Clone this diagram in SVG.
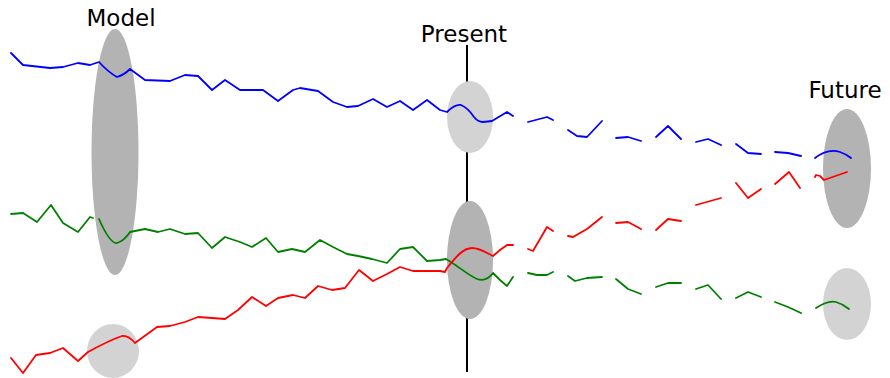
<svg xmlns="http://www.w3.org/2000/svg" width="890" height="378" viewBox="0 0 890 378">
<style>
.lbl{font-family:"DejaVu Sans","Liberation Sans",sans-serif;font-size:23px;fill:#000;text-anchor:middle}
.dark{fill:#b3b3b3}
.light{fill:#d3d3d3}
.tr{fill:none;stroke-width:1.8;stroke-linejoin:round;stroke-linecap:round}
.b{stroke:#0000ff}
.g{stroke:#008000}
.r{stroke:#ff0000}
</style>
<rect width="890" height="378" fill="#ffffff"/>
<line id="present-axis" x1="467" y1="45" x2="467" y2="372" stroke="#000" stroke-width="2"/>
<g id="model">
<text class="lbl" x="121" y="26">Model</text>
<ellipse class="dark" cx="115" cy="152" rx="23.5" ry="123"/>
<ellipse class="light" cx="113" cy="351" rx="26" ry="27"/>
</g>
<g id="present">
<text class="lbl" x="464" y="42">Present</text>
<ellipse class="light" cx="470" cy="117" rx="23" ry="36"/>
<ellipse class="dark" cx="470" cy="260" rx="23" ry="59"/>
</g>
<g id="future">
<text class="lbl" x="845" y="98">Future</text>
<ellipse class="dark" cx="847" cy="168.5" rx="24" ry="59.5"/>
<ellipse class="light" cx="847" cy="304" rx="24" ry="36"/>
</g>
<g id="trajectories">
<path class="tr b" d="M11,53 L23,65 L50,68 L63,67 L78,63 L90,65 L99,62 Q108,72 117,77 Q124,75 130,69 L145,80 L170,81 L185,75 L198,76 L212,90 L225,80 L240,90 L263,90 L278,101 L293,90 L300,88 L318,91 L333,102 L347,107 L358,106 L373,99 L387,107 L400,101 L413,110 L427,100 L440,110 L447,112 Q455,104 461,105 Q468,108 474,117 Q478,122 483,122 L492,121 L507,112 L513,116"/>
<path class="tr b" d="M528,122 L547,117 L553,120 M568,130 L577,136 L587,137 L602,121 M616,138 L628,137 L641,141 M656,137 L668,126 L681,139 M696,142 L708,139 L721,145 M736,144 L748,153 L761,154 M775,152 L788,153 L801,156 M815,158 Q828,148 840,152 Q846,154 851,158"/>
<path class="tr g" d="M11,214 L23,213 L37,222 L51,205 L63,223 L78,232 L90,217 L93,218 M99,219 Q110,244 117,243 Q124,241 130,232 L145,229 L158,232 L170,229 L185,234 L198,233 L212,248 L225,237 L240,242 L252,247 L266,238 L278,252 L292,249 L305,252 L320,240 L333,247 L347,254 L358,256 L372,259 L387,263 L400,249 L413,247 L427,261 L440,260 L446,259 C458,266 468,275 477,279 C485,282 490,277 493,273 L500,280 L507,286 L513,277"/>
<path class="tr g" d="M528,273 L537,275 L547,275 L553,272 M568,276 L575,281 L587,278 L602,277 M616,279 L628,289 L641,294 M656,287 L668,283 L681,283 M696,289 L708,285 L721,299 M736,298 L748,292 L761,297 M775,302 L788,307 L801,313 M816,308 Q828,300 836,302 Q843,304 849,309"/>
<path class="tr r" d="M11,358 L23,373 L36,355 L50,353 L63,348 L78,361 L88,352 Q110,340 122,336 Q128,335 135,343 L157,327 L170,326 L185,322 L198,317 L212,318 L225,319 L238,310 L252,297 L266,306 L278,298 L293,295 L305,298 L318,286 L332,290 L345,288 L359,270 L373,281 L387,274 L400,267 L413,271 L440,271 L445,272 L447,268 C455,258 463,248 472,248 C480,248 487,253 493,256 L500,250 L507,245 L513,245"/>
<path class="tr r" d="M528,249 L533,251 L547,227 L553,231 M568,236 L573,237 L587,229 L602,217 M616,223 L628,222 L641,229 M656,230 L668,219 L681,221 M696,205 L721,198 M736,183 L748,198 L761,189 M775,184 L789,172 L800,188 M815,177 L816,175 L820,176 L824,180 L847,172"/>
</g>
</svg>
